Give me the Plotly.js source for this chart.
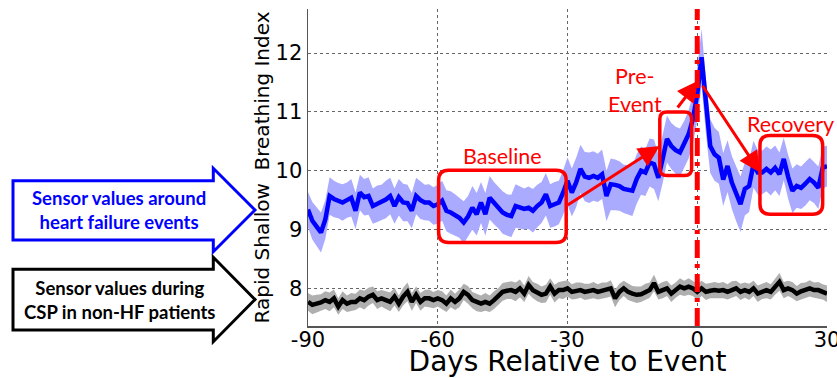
<!DOCTYPE html>
<html>
<head>
<meta charset="utf-8">
<script src="https://cdn.plot.ly/plotly-3.0.1.min.js"></script>
<style>
html,body{margin:0;padding:0;background:#fff;}
#chart{width:837px;height:378px;}
</style>
</head>
<body>
<div id="chart"></div>
<script>
// ---------------- DATA ----------------
const dayStart = -90, dayEnd = 30;
const xTickVals = [-90, -60, -30, 0, 30];
const xTickText = ['-90', '-60', '-30', '0', '30'];
const yTickVals = [8, 9, 10, 11, 12];
const yTickText = ['8', '9', '10', '11', '12'];

// HF patients: mean Rapid Shallow Breathing Index, days -90..30
const blueMean = [
  9.34, 9.15, 9.05, 8.95, 9.17, 9.57, 9.52, 9.49, 9.46, 9.50,
  9.54, 9.32, 9.63, 9.55, 9.57, 9.40, 9.44, 9.46, 9.51, 9.57,
  9.40, 9.55, 9.46, 9.45, 9.32, 9.57, 9.50, 9.46, 9.46, 9.40,
  9.43, 9.49, 9.32, 9.29, 9.25, 9.20, 9.12, 9.22, 9.37, 9.26,
  9.46, 9.26, 9.54, 9.45, 9.37, 9.29, 9.25, 9.23, 9.40, 9.38,
  9.35, 9.37, 9.32, 9.40, 9.46, 9.60, 9.40, 9.43, 9.46, 9.63,
  9.83, 9.63, 9.80, 10.03, 9.90, 9.88, 9.91, 9.88, 9.94, 9.57,
  9.77, 9.76, 9.74, 9.69, 9.67, 9.66, 9.86, 10.00, 9.97, 10.14,
  10.11, 9.88, 10.20, 10.54, 10.42, 10.35, 10.31, 10.45, 10.62, 10.88,
  11.30, 11.93, 11.10, 10.42, 10.28, 10.22, 9.85, 10.08, 9.80, 9.60,
  9.43, 9.69, 9.74, 10.11, 9.97, 9.97, 10.03, 9.97, 10.05, 9.94,
  10.20, 9.90, 9.66, 9.74, 9.71, 9.78, 9.86, 9.80, 9.71, 10.05,
  10.08
];
// half-width of the HF confidence band
const blueSpread = [
  0.30, 0.32, 0.33, 0.34, 0.33, 0.32, 0.31, 0.30, 0.31, 0.30,
  0.32, 0.31, 0.30, 0.31, 0.32, 0.30, 0.31, 0.30, 0.32, 0.31,
  0.30, 0.31, 0.32, 0.31, 0.30, 0.31, 0.32, 0.30, 0.31, 0.32,
  0.33, 0.34, 0.35, 0.36, 0.35, 0.34, 0.36, 0.35, 0.37, 0.36,
  0.35, 0.36, 0.37, 0.36, 0.35, 0.36, 0.35, 0.36, 0.37, 0.36,
  0.35, 0.36, 0.37, 0.36, 0.35, 0.36, 0.37, 0.38, 0.37, 0.38,
  0.40, 0.41, 0.42, 0.41, 0.42, 0.43, 0.42, 0.41, 0.42, 0.43,
  0.44, 0.43, 0.42, 0.41, 0.42, 0.43, 0.42, 0.41, 0.40, 0.41,
  0.42, 0.40, 0.41, 0.40, 0.39, 0.40, 0.41, 0.40, 0.41, 0.42,
  0.45, 0.48, 0.47, 0.46, 0.45, 0.44, 0.45, 0.44, 0.45, 0.46,
  0.47, 0.45, 0.44, 0.40, 0.38, 0.37, 0.38, 0.39, 0.38, 0.37,
  0.36, 0.37, 0.38, 0.37, 0.36, 0.37, 0.36, 0.35, 0.36, 0.35,
  0.35
];
// non-HF patients during CSP
const blackMean = [
  7.77, 7.72, 7.74, 7.76, 7.80, 7.77, 7.83, 7.69, 7.80, 7.74,
  7.77, 7.77, 7.83, 7.80, 7.86, 7.89, 7.80, 7.83, 7.80, 7.77,
  7.86, 7.74, 7.86, 7.94, 7.77, 7.89, 7.77, 7.83, 7.83, 7.80,
  7.83, 7.80, 7.74, 7.83, 7.77, 7.83, 7.94, 7.89, 7.80, 7.76,
  7.74, 7.77, 7.74, 7.80, 7.86, 7.94, 7.96, 7.97, 7.94, 8.00,
  7.91, 8.06, 7.97, 7.93, 7.89, 7.91, 8.03, 7.91, 7.97, 7.97,
  8.00, 7.94, 7.96, 7.97, 7.94, 7.95, 7.97, 7.94, 7.96, 7.97,
  8.00, 7.83, 7.94, 8.00, 7.94, 7.91, 7.89, 7.90, 7.94, 7.97,
  8.09, 7.94, 7.97, 8.00, 7.91, 7.97, 8.03, 8.00, 8.03, 8.00,
  7.94, 8.00, 7.94, 7.96, 7.97, 7.96, 7.97, 7.94, 7.98, 8.00,
  7.94, 7.97, 7.94, 8.00, 7.91, 7.95, 7.97, 7.94, 8.03, 8.11,
  7.97, 8.00, 7.97, 7.91, 7.95, 7.97, 8.00, 7.97, 7.97, 7.94,
  7.91
];
const blackSpread = [
  0.15, 0.16, 0.15, 0.14, 0.15, 0.16, 0.15, 0.14, 0.15, 0.14,
  0.15, 0.14, 0.15, 0.16, 0.15, 0.14, 0.15, 0.14, 0.15, 0.16,
  0.15, 0.14, 0.15, 0.16, 0.15, 0.14, 0.15, 0.14, 0.15, 0.14,
  0.14, 0.15, 0.14, 0.15, 0.14, 0.15, 0.14, 0.15, 0.14, 0.15,
  0.14, 0.15, 0.14, 0.15, 0.14, 0.15, 0.14, 0.15, 0.16, 0.15,
  0.14, 0.15, 0.14, 0.15, 0.14, 0.15, 0.14, 0.15, 0.14, 0.15,
  0.14, 0.13, 0.14, 0.13, 0.14, 0.13, 0.14, 0.13, 0.14, 0.13,
  0.14, 0.15, 0.14, 0.13, 0.14, 0.13, 0.14, 0.13, 0.14, 0.13,
  0.14, 0.13, 0.14, 0.13, 0.14, 0.13, 0.14, 0.13, 0.14, 0.13,
  0.14, 0.13, 0.14, 0.13, 0.14, 0.13, 0.14, 0.13, 0.14, 0.13,
  0.14, 0.13, 0.14, 0.13, 0.14, 0.13, 0.14, 0.13, 0.14, 0.15,
  0.14, 0.13, 0.14, 0.13, 0.14, 0.13, 0.14, 0.13, 0.14, 0.13,
  0.14
];

// ---------------- BUILD ----------------
const days = [];
for (let d = dayStart; d <= dayEnd; d++) days.push(d);
const blueUp = blueMean.map((v, i) => v + blueSpread[i]);
const blueLo = blueMean.map((v, i) => v - blueSpread[i]);
const blackUp = blackMean.map((v, i) => v + blackSpread[i]);
const blackLo = blackMean.map((v, i) => v - blackSpread[i]);

const W = 837, H = 378;
const plotL = 308, plotR = 827, plotT = 9, plotB = 326;
const yMin = 7.36, yMax = 12.75;
const pxPerDay = (plotR - plotL) / (dayEnd - dayStart);
const pxPerUnit = (plotB - plotT) / (yMax - yMin);

const traces = [
  {x: days, y: blueUp, mode: 'lines', line: {width: 0, color: 'rgba(0,0,0,0)'}, hoverinfo: 'skip', showlegend: false},
  {x: days, y: blueLo, mode: 'lines', line: {width: 0, color: 'rgba(0,0,0,0)'}, fill: 'tonexty', fillcolor: 'rgb(170,170,255)', hoverinfo: 'skip', showlegend: false},
  {x: days, y: blackUp, mode: 'lines', line: {width: 0, color: 'rgba(0,0,0,0)'}, hoverinfo: 'skip', showlegend: false},
  {x: days, y: blackLo, mode: 'lines', line: {width: 0, color: 'rgba(0,0,0,0)'}, fill: 'tonexty', fillcolor: 'rgb(175,175,175)', hoverinfo: 'skip', showlegend: false},
  {x: days, y: blueMean, mode: 'lines', line: {width: 4.5, color: '#0000ff'}, showlegend: false},
  {x: days, y: blackMean, mode: 'lines', line: {width: 4.5, color: '#000000'}, showlegend: false}
];

function roundRect(x0, x1, y0, y1, rpx) {
  const rx = rpx / pxPerDay, ry = rpx / pxPerUnit;
  return `M ${x0 + rx},${y1} L ${x1 - rx},${y1} Q ${x1},${y1} ${x1},${y1 - ry} ` +
         `L ${x1},${y0 + ry} Q ${x1},${y0} ${x1 - rx},${y0} L ${x0 + rx},${y0} ` +
         `Q ${x0},${y0} ${x0},${y0 + ry} L ${x0},${y1 - ry} Q ${x0},${y1} ${x0 + rx},${y1} Z`;
}
// paper-coordinate path from pixel points
function pxPath(pts) {
  return pts.map((p, i) => (i ? 'L ' : 'M ') + (p[0] / W) + ',' + (1 - p[1] / H)).join(' ') + ' Z';
}

const red = '#ff0000';
const shapes = [
  {type: 'line', xref: 'x', yref: 'y domain', x0: 0, x1: 0, y0: 0, y1: 1,
   line: {color: red, width: 5, dash: '18px,6px,4px,6px'}, layer: 'above'},
  {type: 'path', xref: 'x', yref: 'y', path: roundRect(-59.8, -30.3, 8.78, 10.01, 10),
   line: {color: red, width: 3.5}, layer: 'above'},
  {type: 'path', xref: 'x', yref: 'y', path: roundRect(-8.66, -1.3, 9.92, 11.0, 7),
   line: {color: red, width: 3.5}, layer: 'above'},
  {type: 'path', xref: 'x', yref: 'y', path: roundRect(14.5, 29.0, 9.26, 10.6, 10),
   line: {color: red, width: 3.5}, layer: 'above'},
  // left side block arrows
  {type: 'path', xref: 'paper', yref: 'paper',
   path: pxPath([[13, 180.7], [213.3, 180.7], [213.3, 168.3], [255, 210], [213.3, 251.7], [213.3, 240], [13, 240]]),
   line: {color: '#0000ff', width: 3}, fillcolor: '#ffffff'},
  {type: 'path', xref: 'paper', yref: 'paper',
   path: pxPath([[13, 269.3], [213.3, 269.3], [213.3, 257.3], [255, 299.5], [213.3, 341.7], [213.3, 330], [13, 330]]),
   line: {color: '#000000', width: 3}, fillcolor: '#ffffff'}
];

const labelFont = {family: 'Lato, "Noto Sans", sans-serif', size: 21.5, color: red};
const annotations = [
  {x: -45.1, y: 10.25, xref: 'x', yref: 'y', text: 'Baseline', showarrow: false, font: labelFont, xanchor: 'center', yanchor: 'middle'},
  {x: -14.5, y: 11.37, xref: 'x', yref: 'y', text: 'Pre-<br>Event', showarrow: false, font: labelFont, xanchor: 'center', yanchor: 'middle'},
  {x: 21.5, y: 10.79, xref: 'x', yref: 'y', text: 'Recovery', showarrow: false, font: labelFont, xanchor: 'center', yanchor: 'middle'},
  // arrows
  {x: -8.7, y: 10.42, ax: -30.3, ay: 9.4, xref: 'x', yref: 'y', axref: 'x', ayref: 'y', text: '', showarrow: true,
   arrowcolor: red, arrowwidth: 3, arrowhead: 2, arrowsize: 1.4, standoff: 0, startstandoff: 0},
  {x: 0.2, y: 11.53, ax: -4.8, ay: 11.05, xref: 'x', yref: 'y', axref: 'x', ayref: 'y', text: '', showarrow: true,
   arrowcolor: red, arrowwidth: 3, arrowhead: 2, arrowsize: 1.4, standoff: 0, startstandoff: 0},
  {x: 14.5, y: 9.97, ax: 1.0, ay: 11.47, xref: 'x', yref: 'y', axref: 'x', ayref: 'y', text: '', showarrow: true,
   arrowcolor: red, arrowwidth: 3, arrowhead: 2, arrowsize: 1.4, standoff: 0, startstandoff: 0},
  // left panel texts
  {x: 119 / W, y: 1 - 210 / H, xref: 'paper', yref: 'paper', showarrow: false,
   text: '<b>Sensor values around<br>heart failure events</b>',
   font: {family: 'Lato, "Noto Sans", sans-serif', size: 18.5, color: '#0000ff'}, xanchor: 'center', yanchor: 'middle'},
  {x: 119 / W, y: 1 - 300 / H, xref: 'paper', yref: 'paper', showarrow: false,
   text: '<b>Sensor values during<br>CSP in non-HF patients</b>',
   font: {family: 'Lato, "Noto Sans", sans-serif', size: 18.5, color: '#000000'}, xanchor: 'center', yanchor: 'middle'}
];

const axisFamily = '"DejaVu Sans", "Liberation Sans", Arial, sans-serif';
const axisFont = {family: axisFamily, size: 21, color: '#000000'};
const layout = {
  width: W, height: H,
  margin: {l: 0, r: 0, t: 0, b: 0, pad: 0},
  paper_bgcolor: '#ffffff', plot_bgcolor: '#ffffff',
  showlegend: false,
  xaxis: {
    domain: [plotL / W, plotR / W], range: [dayStart, dayEnd],
    tickmode: 'array', tickvals: xTickVals, ticktext: xTickText,
    showgrid: true, gridcolor: '#666666', gridwidth: 1, griddash: 'dot',
    showline: true, linecolor: '#555555', linewidth: 1.5, zeroline: false,
    ticks: '', ticklen: 0, tickfont: axisFont, ticklabeloverflow: 'allow', ticklabelstandoff: -6,
    title: {text: 'Days Relative to Event', font: {family: axisFamily, size: 28, color: '#000'}, standoff: 0}
  },
  yaxis: {
    domain: [1 - plotB / H, 1 - plotT / H], range: [yMin, yMax],
    tickmode: 'array', tickvals: yTickVals, ticktext: yTickText,
    showgrid: true, gridcolor: '#666666', gridwidth: 1, griddash: 'dot',
    showline: true, linecolor: '#555555', linewidth: 1.5, zeroline: false,
    ticks: '', ticklen: 0, tickfont: axisFont,
    title: {text: 'Rapid Shallow \u00a0Breathing Index', font: {family: axisFamily, size: 20, color: '#000'}, standoff: 0}
  },
  shapes: shapes,
  annotations: annotations
};

Plotly.newPlot('chart', traces, layout, {staticPlot: true, displayModeBar: false});
</script>
</body>
</html>
